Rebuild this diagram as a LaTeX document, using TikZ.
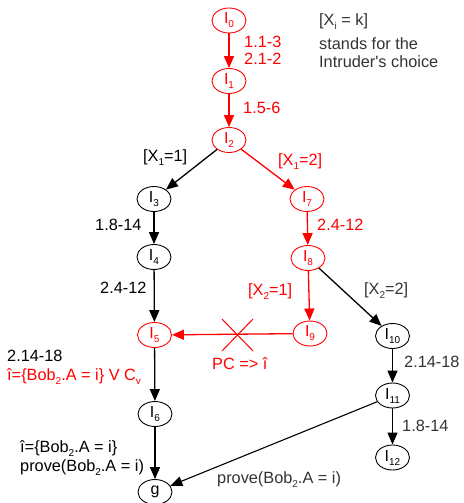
\documentclass[tikz,border=0pt]{standalone}
\usepackage{fontspec}
\setmainfont{Liberation Sans}
\usetikzlibrary{arrows.meta,shapes.geometric}
\definecolor{myred}{HTML}{FF0000}
\definecolor{mygray}{HTML}{333333}
\newcommand\sbs[1]{\raisebox{-4pt}{\fontsize{10}{10}\selectfont #1}}
\begin{document}
\begin{tikzpicture}[x=1pt,y=-1pt,
  st/.style={draw, ellipse, minimum width=34pt, minimum height=25pt, inner sep=0pt, line width=0.9pt, font=\fontsize{16}{16}\selectfont},
  rst/.style={st, draw=myred, text=myred},
  lab/.style={anchor=base west, inner sep=0pt, font=\fontsize{16.3}{16.3}\selectfont},
  arr/.style={line width=1.3pt, -{Triangle[length=12pt,width=10pt]}},
  rarr/.style={arr, draw=myred},
  ln/.style={line width=1.1pt}]
\useasboundingbox (0,0) rectangle (463,503);
% nodes
\node[rst] (I0) at (229,20.5) {I\sbs{0}};
\node[rst] (I1) at (229,81) {I\sbs{1}};
\node[rst] (I2) at (229,140) {I\sbs{2}};
\node[st] (I3) at (154,199) {I\sbs{3}};
\node[st] (I4) at (154,257) {I\sbs{4}};
\node[rst] (I7) at (307,199) {I\sbs{7}};
\node[rst] (I8) at (308,258) {I\sbs{8}};
\node[rst] (I5) at (154.5,335) {I\sbs{5}};
\node[rst] (I9) at (310,333.5) {I\sbs{9}};
\node[st] (I10) at (392.5,336) {I\sbs{10}};
\node[st] (I11) at (392.5,395.5) {I\sbs{11}};
\node[st] (I12) at (392.5,457.5) {I\sbs{12}};
\node[st] (I6) at (155,414) {I\sbs{6}};
\node[st] (g) at (155,492) {g};
% edges
\draw[rarr] (I0) -- (I1);
\draw[rarr] (I1) -- (I2);
\draw[arr] (I2) -- (I3);
\draw[rarr] (I2) -- (I7);
\draw[arr] (I3) -- (I4);
\draw[rarr] (I7) -- (I8);
\draw[arr] (I4) -- (I5);
\draw[rarr] (I8) -- (I9);
\draw[arr] (I8) -- (I10);
\draw[rarr] (I9) -- (I5);
\draw[arr] (I5) -- (I6);
\draw[arr] (I6) -- (g);
\draw[arr] (I10) -- (I11);
\draw[arr] (I11) -- (I12);
\draw[arr, line width=1.1pt] (I11) -- (g);
% cross
\coordinate (c1) at (222,319);
\coordinate (c2) at (253,351);
\coordinate (c3) at (222,351);
\coordinate (c4) at (253,319);
\draw[myred, line width=1pt] (c1) -- (c2) (c3) -- (c4);
% labels
\node[lab, text=myred] (l1) at (244,48) {1.1-3};
\node[lab, text=myred] (l2) at (244,65) {2.1-2};
\node[lab, text=myred] (l3) at (243,113.5) {1.5-6};
\node[lab, text=mygray] (n1) at (319,25.5) {[X\sbs{i} = k]};
\node[lab, text=mygray] (n2) at (319,49) {stands for the};
\node[lab, text=mygray] (n3) at (319,67) {Intruder\textquotesingle s choice};
\node[lab] (l4) at (143,161) {[X\sbs{1}=1]};
\node[lab, text=myred] (l5) at (278,165) {[X\sbs{1}=2]};
\node[lab] (l6) at (95,230) {1.8-14};
\node[lab, text=myred] (l7) at (317,230) {2.4-12};
\node[lab] (l8) at (100,293) {2.4-12};
\node[lab, text=myred] (l9) at (248,295) {[X\sbs{2}=1]};
\node[lab, text=mygray] (l10) at (364,294) {[X\sbs{2}=2]};
\node[lab, text=myred] (l11) at (212,369) {PC => î};
\node[lab] (l12) at (7,361) {2.14-18};
\node[lab, text=myred] (l13) at (7,380) {î=\{Bob\sbs{2}.A = i\} V C\sbs{v}};
\node[lab, text=mygray] (l14) at (404,367.5) {2.14-18};
\node[lab, text=mygray] (l15) at (402,431) {1.8-14};
\node[lab] (l16) at (20,452) {î=\{Bob\sbs{2}.A = i\}};
\node[lab] (l17) at (20,471) {prove(Bob\sbs{2}.A = i)};
\node[lab, text=mygray] (l18) at (217,483.5) {prove(Bob\sbs{2}.A = i)};
\end{tikzpicture}
\end{document}
